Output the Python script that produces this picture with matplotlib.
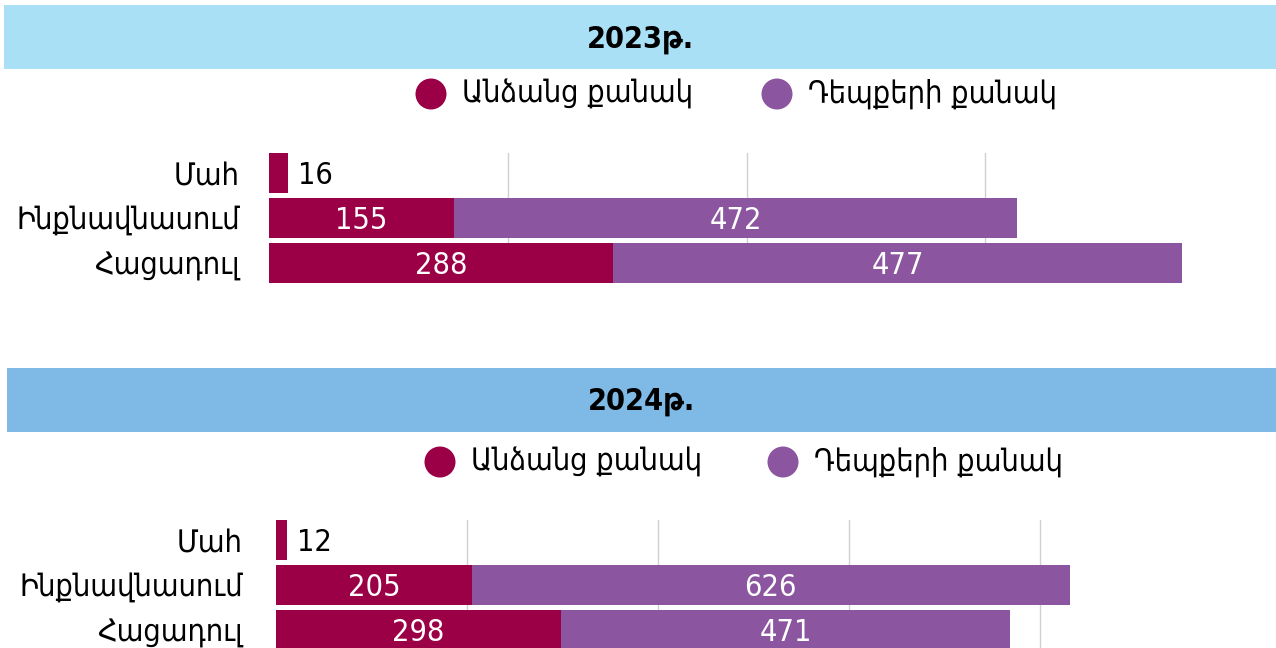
import matplotlib.pyplot as plt
from matplotlib.patches import Rectangle, Circle

# データ
categories = ["Մահ", "Ինքնավնասում", "Հացադուլ"]
legend_labels = ["Անձանց քանակ", "Դեպքերի քանակ"]
years = ["2023թ.", "2024թ."]
persons_2023 = [16, 155, 288]
cases_2023 = [0, 472, 477]
persons_2024 = [12, 205, 298]
cases_2024 = [0, 626, 471]

W, H = 1276, 648
C_PERSON = "#9B0047"
C_CASE = "#8B55A0"
FS = 22
BAR_H = 0.88
plt.rcParams['font.family'] = ['DejaVu Sans']


def px_rect(x0, y0, x1, y1):
    """ピクセル座標 -> figure座標"""
    return [x0 / W, 1 - y1 / H, (x1 - x0) / W, (y1 - y0) / H]


def draw_panel(fig, bg, title, persons, cases, band_y, band_x0, band_color,
               leg_y, leg_x, ax_px, xmax, grid_ticks, pad):
    # 見出し帯
    bg.add_patch(Rectangle((band_x0, band_y[0]), W - band_x0, band_y[1] - band_y[0],
                           color=band_color, lw=0))
    bg.text((band_x0 + W) / 2, (band_y[0] + band_y[1]) / 2 + 2, title, ha="center",
            va="center", fontsize=FS, fontweight="bold", stretch="condensed")

    # 凡例
    for (cx, label, col) in zip(leg_x, legend_labels, [C_PERSON, C_CASE]):
        bg.add_patch(Circle((cx, leg_y), 15.5, color=col, lw=0))
        bg.text(cx + 31, leg_y, label, ha="left", va="center", fontsize=FS,
                stretch="condensed")

    # 棒グラフ
    ax = fig.add_axes(px_rect(*ax_px))
    y = list(range(len(categories)))
    ax.barh(y, persons, height=BAR_H, color=C_PERSON, zorder=2)
    ax.barh(y, cases, left=persons, height=BAR_H, color=C_CASE, zorder=2)
    for i in y:
        p, c = persons[i], cases[i]
        if p < 40:
            ax.text(p + xmax * 0.01, i + 0.05, str(p), ha="left", va="center",
                    fontsize=FS, color="black", stretch="condensed")
        else:
            ax.text(p / 2, i + 0.05, str(p), ha="center", va="center",
                    fontsize=FS, color="white", stretch="condensed")
        if c > 0:
            ax.text(p + c / 2, i + 0.05, str(c), ha="center", va="center",
                    fontsize=FS, color="white", stretch="condensed")
    ax.set_xlim(0, xmax)
    ax.set_ylim(len(categories) - 1 + BAR_H / 2, -BAR_H / 2)
    ax.set_xticks(grid_ticks)
    ax.xaxis.grid(True, color="#d0d0d0", lw=1, zorder=0)
    ax.tick_params(axis="x", length=0, labelbottom=False)
    ax.set_yticks(y)
    ax.set_yticklabels(categories, fontsize=FS, stretch="condensed")
    ax.tick_params(axis="y", length=0, pad=pad)
    for s in ax.spines.values():
        s.set_visible(False)
    ax.patch.set_alpha(0)
    return ax


fig = plt.figure(figsize=(W / 100, H / 100), dpi=100)
bg = fig.add_axes([0, 0, 1, 1], zorder=-1)
bg.set_xlim(0, W)
bg.set_ylim(H, 0)
bg.axis("off")

draw_panel(fig, bg, years[0], persons_2023, cases_2023, (5, 69), 4, "#AAE0F6",
           94, (431, 777), (269, 153, 1224, 283), 800, [200, 400, 600], 21)
draw_panel(fig, bg, years[1], persons_2024, cases_2024, (368, 432), 7, "#7FBAE6",
           462, (440, 783), (276, 520, 1231, 650), 1000, [200, 400, 600, 800], 24)

fig.savefig("out.png", dpi=100)
